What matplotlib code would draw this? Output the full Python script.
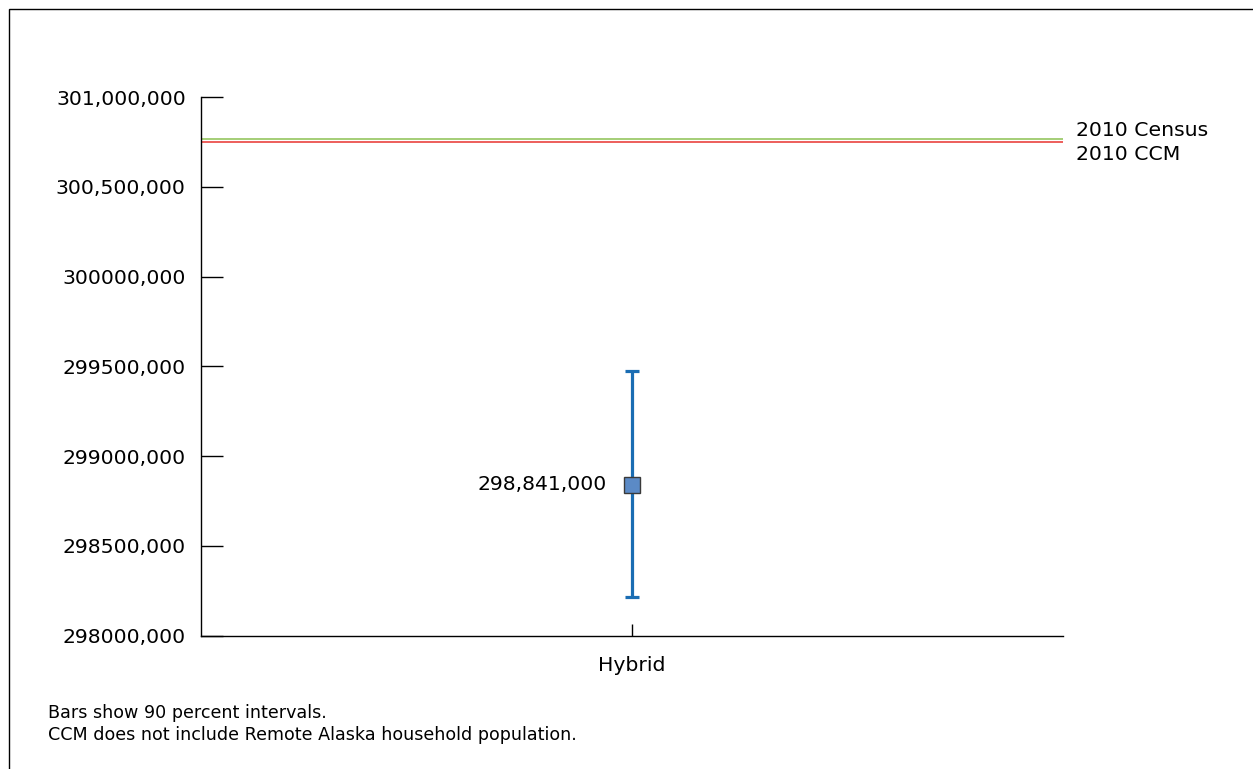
import matplotlib
matplotlib.use("Agg")
import matplotlib.pyplot as plt
from matplotlib.patches import Rectangle
import matplotlib.transforms as mtransforms

plt.rcParams['font.family'] = ['DejaVu Sans']

# Data
categories = ["Hybrid"]
estimates = [298841000]
err_low = [298213000]
err_high = [299475000]
point_labels = ["298,841,000"]
ref_names = ["2010 Census", "2010 CCM"]
ref_values = [300764000, 300747000]
ref_colors = ["#8cc152", "#e8332f"]
ytick_values = [298000000, 298500000, 299000000, 299500000, 300000000, 300500000, 301000000]
ytick_labels = ["298000,000", "298500,000", "299000,000", "299500,000", "300000,000",
                "300,500,000", "301,000,000"]
footnotes = ["Bars show 90 percent intervals.",
             "CCM does not include Remote Alaska household population."]

W, H = 1253, 769
fig = plt.figure(figsize=(W / 100, H / 100), dpi=100)

# outer frame (right/bottom edges fall outside the image)
fig.patches.append(Rectangle((9 / W, -0.05), 1.2, 1 - 9 / H + 0.05, transform=fig.transFigure,
                             fill=False, edgecolor="black", linewidth=1.0))

ax = fig.add_axes([201 / W, 1 - 635.5 / H, (1063 - 201) / W, (635.5 - 97) / H])
ax.set_xlim(-1, 1)
ax.set_ylim(298000000, 301000000)

for s in ["top", "right"]:
    ax.spines[s].set_visible(False)
for s in ["left", "bottom"]:
    ax.spines[s].set_linewidth(1.0)

FS = 14.7

# reference lines
for name, val, col in zip(ref_names, ref_values, ref_colors):
    ax.axhline(val, color=col, linewidth=1.1, xmin=0, xmax=1)

trans = mtransforms.blended_transform_factory(ax.transAxes, ax.transData)
ax.annotate(ref_names[0], xy=(1, ref_values[0]), xycoords=trans, xytext=(9, 6.5),
            textcoords="offset points", ha="left", va="center", fontsize=FS)
ax.annotate(ref_names[1], xy=(1, ref_values[1]), xycoords=trans, xytext=(9, -9),
            textcoords="offset points", ha="left", va="center", fontsize=FS)

xs = list(range(len(categories)))
for x, est, lo, hi, lab in zip(xs, estimates, err_low, err_high, point_labels):
    ax.errorbar([x], [est], yerr=[[est - lo], [hi - est]], fmt="none",
                ecolor="#1a6db3", elinewidth=2.3, capsize=5, capthick=2.3, zorder=3)
    ax.plot([x], [est], marker="s", markersize=11.5, markerfacecolor="#5b8ac6",
            markeredgecolor="#3a3a3a", markeredgewidth=1.0, linestyle="none", zorder=4)
    ax.annotate(lab, xy=(x, est), xytext=(-18, 0), textcoords="offset points",
                ha="right", va="center", fontsize=FS)

ax.set_xticks(xs)
ax.set_xticklabels(categories, fontsize=FS)
ax.set_yticks(ytick_values)
ax.set_yticklabels(ytick_labels, fontsize=FS)
ax.tick_params(axis="y", direction="in", length=16, width=1.0, pad=11)
ax.tick_params(axis="x", direction="in", length=9, width=1.0, pad=15)

fig.text(48 / W, 1 - 713 / H, footnotes[0], ha="left", va="center", fontsize=12.6)
fig.text(48 / W, 1 - 735.5 / H, footnotes[1], ha="left", va="center", fontsize=12.6)

fig.savefig("out.png", dpi=100)
